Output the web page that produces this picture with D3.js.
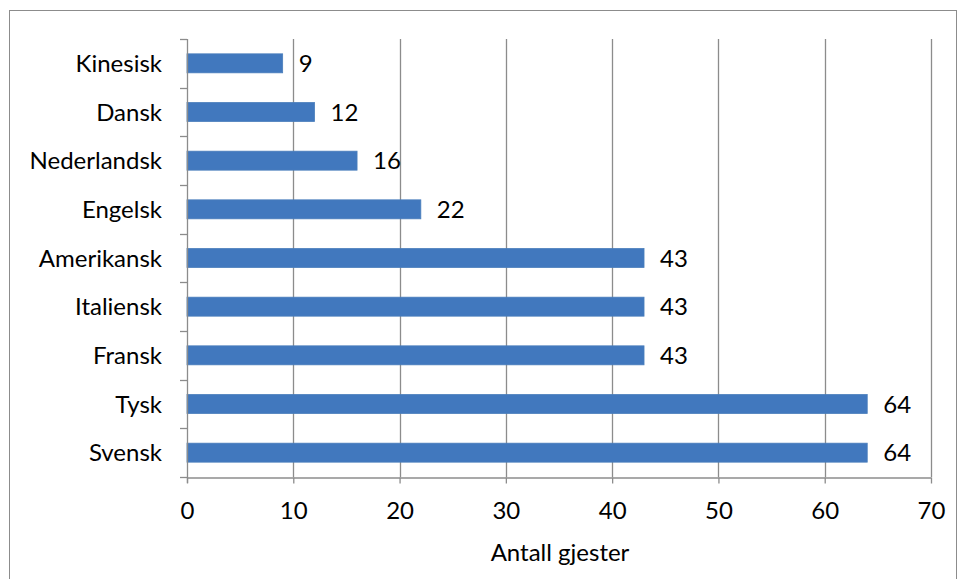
<!DOCTYPE html>
<html>
<head>
<meta charset="utf-8">
<script src="https://cdn.jsdelivr.net/npm/d3@7"></script>
<style>
  html, body { margin: 0; padding: 0; background: #fff; }
  svg { display: block; }
  text { font-family: Lato, "Open Sans", sans-serif; fill: #000; }
</style>
</head>
<body>
<svg id="chart" width="959" height="579"></svg>
<script>
// Guests by nationality
const categories = ["Kinesisk", "Dansk", "Nederlandsk", "Engelsk", "Amerikansk", "Italiensk", "Fransk", "Tysk", "Svensk"];
const guests = [9, 12, 16, 22, 43, 43, 43, 64, 64];
const xTicks = [0, 10, 20, 30, 40, 50, 60, 70];
const xTitle = "Antall gjester";

const svg = d3.select("#chart");
const W = 959, H = 579;
const plot = { left: 187, right: 931, top: 39, bottom: 477 };
const FS = 24;

// outer frame
svg.append("rect")
  .attr("x", 9.5).attr("y", 10.5)
  .attr("width", W - 12).attr("height", H - 10)
  .attr("fill", "none").attr("stroke", "#8c8c8c").attr("stroke-width", 1);

const x = d3.scaleLinear().domain([0, 70]).range([plot.left, plot.right]);
const y = d3.scaleBand().domain(categories).range([plot.top, plot.bottom]).paddingInner(0.61).paddingOuter(0.305);
const yTicks = d3.scaleBand().domain(categories).range([plot.top, plot.bottom]);

// vertical gridlines
svg.append("g").selectAll("line").data(xTicks.slice(1)).join("line")
  .attr("x1", d => Math.round(x(d)) + 0.5).attr("x2", d => Math.round(x(d)) + 0.5)
  .attr("y1", plot.top).attr("y2", plot.bottom)
  .attr("stroke", "#8c8c8c").attr("stroke-width", 1.3);

// bars
svg.append("g").selectAll("rect").data(categories).join("rect")
  .attr("x", x(0)).attr("y", d => y(d))
  .attr("width", (d, i) => x(guests[i]) - x(0))
  .attr("height", y.bandwidth())
  .attr("fill", "#4178be").attr("stroke", "#4a7ebb").attr("stroke-width", 0.8);

// value labels
svg.append("g").selectAll("text").data(categories).join("text")
  .attr("x", (d, i) => x(guests[i]) + 16)
  .attr("y", d => y(d) + y.bandwidth() / 2 + 8.5)
  .attr("font-size", FS)
  .text((d, i) => guests[i]);

// y axis (category axis with ticks between categories)
const yAxis = svg.append("g");
yAxis.append("line")
  .attr("x1", plot.left + 0.5).attr("x2", plot.left + 0.5)
  .attr("y1", plot.top).attr("y2", plot.bottom + 6)
  .attr("stroke", "#8c8c8c").attr("stroke-width", 1.3);
const boundaries = categories.map(c => yTicks(c)).concat([plot.bottom]);
yAxis.selectAll("line.tick").data(boundaries).join("line").attr("class", "tick")
  .attr("x1", plot.left - 7).attr("x2", plot.left)
  .attr("y1", d => Math.round(d) + 0.5).attr("y2", d => Math.round(d) + 0.5)
  .attr("stroke", "#8c8c8c").attr("stroke-width", 1.3);
yAxis.selectAll("text").data(categories).join("text")
  .attr("x", 162).attr("y", d => yTicks(d) + yTicks.bandwidth() / 2 + 8.5)
  .attr("text-anchor", "end").attr("font-size", FS)
  .text(d => d);

// x axis
const xAxis = d3.axisBottom(x).tickValues(xTicks).tickSize(6).tickSizeOuter(0);
const gx = svg.append("g").attr("transform", `translate(0,${plot.bottom + 0.5})`).call(xAxis);
gx.select(".domain").attr("stroke", "#8c8c8c").attr("stroke-width", 1.3);
gx.selectAll(".tick line").attr("stroke", "#8c8c8c").attr("stroke-width", 1.3);
gx.selectAll(".tick text").attr("font-size", FS).attr("font-family", "Lato, 'Open Sans', sans-serif")
  .attr("fill", "#000").attr("y", 0).attr("dy", null).attr("transform", "translate(0,41)");

// axis title
svg.append("text")
  .attr("x", (plot.left + plot.right) / 2 + 1).attr("y", 561)
  .attr("text-anchor", "middle").attr("font-size", FS)
  .text(xTitle);
</script>
</body>
</html>
